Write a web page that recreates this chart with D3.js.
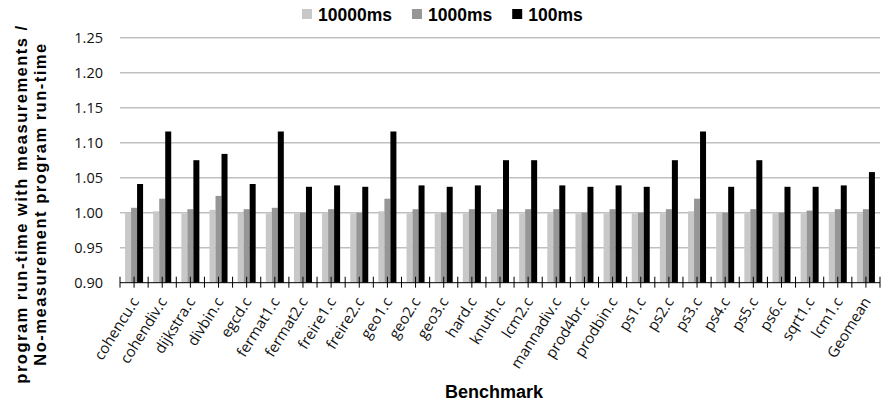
<!DOCTYPE html>
<html>
<head>
<meta charset="utf-8">
<script src="https://cdn.jsdelivr.net/npm/d3@7"></script>
<style>
  body { margin: 0; background: #fff; }
  svg { display: block; }
</style>
</head>
<body>
<div id="chart"></div>
<script>
// Benchmark run-time overhead, three sampling intervals

var benchmarks = ["cohencu.c", "cohendiv.c", "dijkstra.c", "divbin.c", "egcd.c", "fermat1.c",
  "fermat2.c", "freire1.c", "freire2.c", "geo1.c", "geo2.c", "geo3.c", "hard.c", "knuth.c",
  "lcm2.c", "mannadiv.c", "prod4br.c", "prodbin.c", "ps1.c", "ps2.c", "ps3.c", "ps4.c",
  "ps5.c", "ps6.c", "sqrt1.c", "lcm1.c", "Geomean"];

var seriesNames = ["10000ms", "1000ms", "100ms"];

var ms10000 = [1.000, 1.002, 0.999, 1.004, 1.000, 0.999, 0.999, 1.000, 0.999, 1.002, 0.999,
  0.999, 0.999, 0.999, 0.999, 0.999, 0.999, 0.999, 0.999, 0.999, 1.002, 0.999, 0.999, 0.999,
  0.999, 0.999, 0.999];

var ms1000 = [1.007, 1.020, 1.005, 1.024, 1.005, 1.007, 1.000, 1.005, 1.000, 1.020, 1.005,
  1.000, 1.005, 1.005, 1.005, 1.005, 1.000, 1.005, 1.000, 1.005, 1.020, 1.000, 1.005, 1.000,
  1.003, 1.005, 1.005];

var ms100 = [1.041, 1.116, 1.075, 1.084, 1.041, 1.116, 1.037, 1.039, 1.037, 1.116, 1.039,
  1.037, 1.039, 1.075, 1.075, 1.039, 1.037, 1.039, 1.037, 1.075, 1.116, 1.037, 1.075, 1.037,
  1.037, 1.039, 1.058];

var yTicks = [0.90, 0.95, 1.00, 1.05, 1.10, 1.15, 1.20, 1.25];

var W = 881, H = 402;
var margin = {top: 37.7, right: 1, bottom: 119.3, left: 120};
var width = W - margin.left - margin.right;
var height = H - margin.top - margin.bottom;
var colors = ["#c8c8c8", "#969696", "#000000"];
var allSeries = [ms10000, ms1000, ms100];

var svg = d3.select("#chart").append("svg")
  .attr("width", W)
  .attr("height", H);

var g = svg.append("g")
  .attr("transform", "translate(" + margin.left + "," + margin.top + ")");

var x = d3.scaleBand().domain(benchmarks).range([0, width]).padding(0);
var bw = 6; // single bar width
var x1 = d3.scaleBand().domain(seriesNames).range([0, bw * 3]);
var y = d3.scaleLinear().domain([0.9, 1.25]).range([height, 0]);

// gridlines
g.selectAll(".grid").data(yTicks.slice(1)).enter().append("line")
  .attr("class", "grid")
  .attr("x1", 0).attr("x2", width)
  .attr("y1", function(d) { return y(d); })
  .attr("y2", function(d) { return y(d); })
  .attr("stroke", "#c0c0c0")
  .attr("stroke-width", 1.6);

// y tick labels
g.selectAll(".ylab").data(yTicks).enter().append("text")
  .attr("class", "ylab")
  .attr("x", -17)
  .attr("y", function(d) { return y(d); })
  .attr("dy", "0.35em")
  .attr("text-anchor", "end")
  .style("font-family", "'Open Sans', sans-serif")
  .style("font-size", "14.5px")
  .attr("fill", "#111")
  .text(function(d) { return d3.format(".2f")(d); });

// bars
var groups = g.selectAll(".grp").data(benchmarks).enter().append("g")
  .attr("class", "grp")
  .attr("transform", function(d) {
    return "translate(" + (x(d) + (x.bandwidth() - bw * 3) / 2) + ",0)";
  });

groups.selectAll("rect")
  .data(function(d, i) {
    return allSeries.map(function(s, k) { return {name: seriesNames[k], v: s[i], k: k}; });
  })
  .enter().append("rect")
  .attr("x", function(d) { return x1(d.name); })
  .attr("width", x1.bandwidth())
  .attr("y", function(d) { return y(d.v); })
  .attr("height", function(d) { return height - y(d.v); })
  .attr("fill", function(d) { return colors[d.k]; });

// x axis line with ticks at every half category
g.append("line")
  .attr("x1", 0).attr("x2", width)
  .attr("y1", height).attr("y2", height)
  .attr("stroke", "#000").attr("stroke-width", 1);

var half = d3.range(benchmarks.length * 2 + 1);
g.selectAll(".xt").data(half).enter().append("line")
  .attr("class", "xt")
  .attr("x1", function(d) { return d * x.step() / 2; })
  .attr("x2", function(d) { return d * x.step() / 2; })
  .attr("y1", height - 6).attr("y2", height + 5)
  .attr("stroke", "#000").attr("stroke-width", 1);

// rotated category labels
g.selectAll(".xlab").data(benchmarks).enter().append("text")
  .attr("class", "xlab")
  .attr("transform", function(d) {
    return "translate(" + (x(d) + x.bandwidth() / 2 + 1) + "," + (height + 16) + ") rotate(-58)";
  })
  .attr("text-anchor", "end")
  .attr("dy", "0.35em")
  .style("font-family", "'Open Sans', sans-serif")
  .style("font-size", "15px")
  .attr("fill", "#111")
  .text(function(d) { return d; });

// axis titles
svg.append("text")
  .attr("x", 494)
  .attr("y", 398)
  .attr("text-anchor", "middle")
  .style("font-family", "'Liberation Sans', Arial, sans-serif")
  .style("font-weight", "bold")
  .style("font-size", "18px")
  .text("Benchmark");

var ytitle = svg.append("text")
  .attr("transform", "translate(0,204) rotate(-90)")
  .attr("text-anchor", "middle")
  .style("font-family", "'Liberation Sans', Arial, sans-serif")
  .style("font-weight", "bold")
  .style("font-size", "16.5px")
  .style("letter-spacing", "1.5px");
ytitle.append("tspan").attr("x", 0).attr("y", 27).text("program run-time with measurements /");
ytitle.append("tspan").attr("x", 0).attr("y", 46).text("No-measurement program run-time");

// legend
var legend = svg.append("g").attr("transform", "translate(302,0)");
var lx = 0;
seriesNames.forEach(function(name, k) {
  legend.append("rect")
    .attr("x", lx).attr("y", 9)
    .attr("width", 10).attr("height", 10)
    .attr("fill", colors[k]);
  var t = legend.append("text")
    .attr("x", lx + 16).attr("y", 20.5)
    .style("font-family", "'Liberation Sans', Arial, sans-serif")
    .style("font-weight", "bold")
    .style("font-size", "17.5px")
    .text(name);
  lx += 16 + t.node().getComputedTextLength() + 20;
});
</script>
</body>
</html>
